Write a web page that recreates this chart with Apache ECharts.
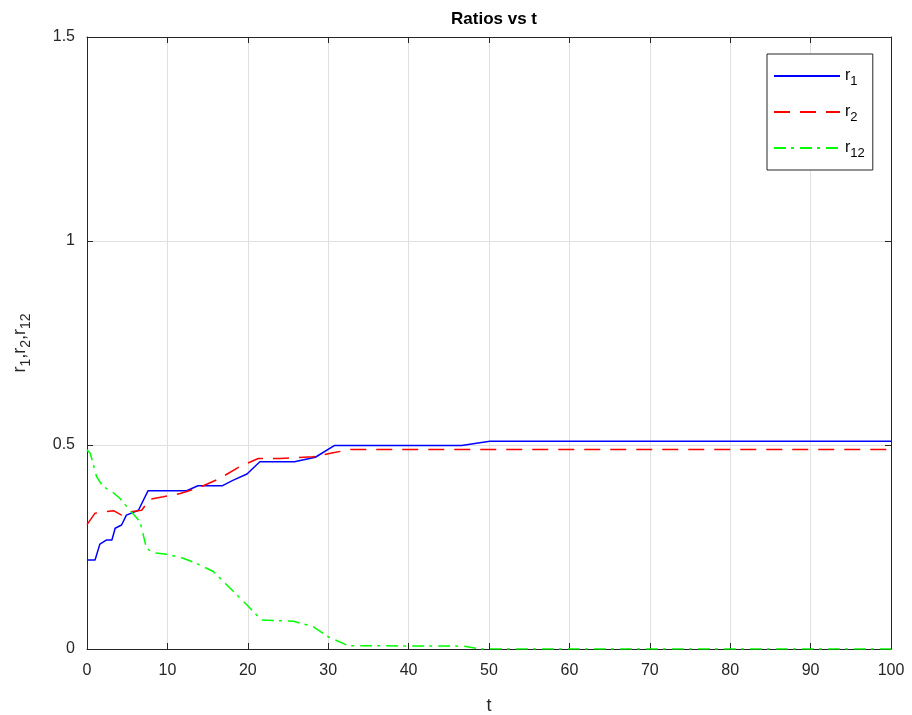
<!DOCTYPE html>
<html>
<head>
<meta charset="utf-8">
<script src="https://cdn.jsdelivr.net/npm/echarts@6/dist/echarts.min.js"></script>
<style>
  html, body { margin: 0; padding: 0; background: #fff; }
  #chart { width: 912px; height: 715px; }
</style>
</head>
<body>
<div id="chart"></div>
<script>
// r1 (blue, solid)
const r1T = [0, 1.0, 1.6, 2.4, 3.1, 3.5, 4.3, 4.9, 6.4, 7.6, 12.4, 13.8, 16.8, 18.2, 19.9, 21.5, 25.8, 28.4, 30.8, 46.6, 50.1, 100];
const r1V = [0.218, 0.218, 0.257, 0.267, 0.267, 0.296, 0.304, 0.328, 0.34, 0.388, 0.388, 0.4, 0.4, 0.414, 0.429, 0.459, 0.459, 0.47, 0.499, 0.499, 0.509, 0.509];
// r2 (red, dashed)
const r2T = [0, 1.0, 3.3, 4.3, 5.2, 6.8, 7.8, 9.5, 11.6, 14.0, 16.5, 19.0, 21.3, 24.0, 28.1, 30.6, 32.8, 100];
const r2V = [0.305, 0.333, 0.339, 0.328, 0.336, 0.34, 0.367, 0.373, 0.381, 0.396, 0.418, 0.447, 0.467, 0.467, 0.471, 0.481, 0.489, 0.489];
// r12 (green, dash-dot)
const r12T = [0, 0.4, 1.2, 2.0, 3.1, 4.1, 5.3, 6.6, 7.4, 8.2, 9.9, 11.6, 13.6, 15.7, 17.4, 19.9, 21.7, 25.7, 28.1, 30.0, 32.5, 46.8, 48.9, 100];
const r12V = [0.488, 0.48, 0.422, 0.398, 0.386, 0.369, 0.341, 0.312, 0.247, 0.236, 0.232, 0.225, 0.21, 0.19, 0.157, 0.108, 0.071, 0.068, 0.055, 0.03, 0.008, 0.007, 0.0, 0.0];

const xTicks = { min: 0, max: 100, interval: 10 };
const yTicks = { min: 0, max: 1.5, interval: 0.5 };

function zip(t, v) {
  return t.map((x, i) => [x, v[i]]);
}

const FONT = '"Liberation Sans", Arial, sans-serif';
const AXIS = '#262626';
const GRID = '#e0e0e0';

const legendRich = {
  b: { fontFamily: FONT, fontSize: 16, color: '#000' },
  s: { fontFamily: FONT, fontSize: 13, color: '#000', padding: [11, 0, 0, 0] }
};
const legendNames = { r1: '{b|r}{s|1}', r2: '{b|r}{s|2}', r12: '{b|r}{s|12}' };

function boxAxis(ticks, position, show) {
  return {
    type: 'value',
    position: position,
    min: ticks.min,
    max: ticks.max,
    interval: ticks.interval,
    axisLine: { show: true, onZero: false, lineStyle: { color: AXIS, width: 1 } },
    axisTick: { show: true, inside: true, length: 6, lineStyle: { color: AXIS } },
    axisLabel: { show: show, color: AXIS, fontFamily: FONT, fontSize: 16, margin: 12 },
    splitLine: { show: show, lineStyle: { color: GRID, width: 1 } }
  };
}

const chart = echarts.init(document.getElementById('chart'));

const xMain = boxAxis(xTicks, 'bottom', true);
xMain.name = 't';
xMain.nameLocation = 'middle';
xMain.nameGap = 48;
xMain.nameTextStyle = { color: AXIS, fontFamily: FONT, fontSize: 18 };
xMain.axisLabel.margin = 14;

const yMain = boxAxis(yTicks, 'left', true);
yMain.name = '{b|r}{s|1}{b|,r}{s|2}{b|,r}{s|12}';
yMain.nameLocation = 'middle';
yMain.nameGap = 54;
yMain.nameRotate = 90;
yMain.nameTextStyle = { rich: { b: { fontFamily: FONT, fontSize: 18, color: AXIS }, s: { fontFamily: FONT, fontSize: 14, color: AXIS, padding: [12, 0, 0, 0] } } };
yMain.axisLabel.formatter = function (v) { return String(v); };

chart.setOption({
  animation: false,
  backgroundColor: '#fff',
  title: {
    text: 'Ratios vs t',
    left: 489,
    textAlign: 'center',
    top: 6,
    textStyle: { fontFamily: FONT, fontSize: 17, fontWeight: 'bold', color: '#000' }
  },
  grid: { left: 87, right: 21, top: 37, bottom: 66, containLabel: false, outerBoundsMode: 'none' },
  xAxis: [xMain, boxAxis(xTicks, 'top', false)],
  yAxis: [yMain, boxAxis(yTicks, 'right', false)],
  legend: {
    orient: 'vertical',
    left: 767,
    top: 54,
    padding: [14, 8, 10, 6],
    itemGap: 16,
    itemWidth: 66,
    itemHeight: 16,
    backgroundColor: '#fff',
    borderColor: '#262626',
    borderWidth: 1,
    borderRadius: 0,
    itemStyle: { opacity: 0 },
    data: ['r1', 'r2', 'r12'],
    formatter: function (name) { return legendNames[name]; },
    textStyle: { rich: legendRich }
  },
  series: [
    {
      name: 'r1', type: 'line',
      data: zip(r1T, r1V), showSymbol: false, symbol: 'none',
      lineStyle: { color: '#0000ff', width: 1.5, type: 'solid' },
      itemStyle: { color: '#0000ff' }
    },
    {
      name: 'r2', type: 'line',
      data: zip(r2T, r2V), showSymbol: false, symbol: 'none',
      lineStyle: { color: '#ff0000', width: 1.5, type: [16, 10] },
      itemStyle: { color: '#ff0000' }
    },
    {
      name: 'r12', type: 'line',
      data: zip(r12T, r12V), showSymbol: false, symbol: 'none',
      lineStyle: { color: '#00ff00', width: 1.5, type: [12, 5, 3, 6] },
      itemStyle: { color: '#00ff00' }
    }
  ]
});
</script>
</body>
</html>
